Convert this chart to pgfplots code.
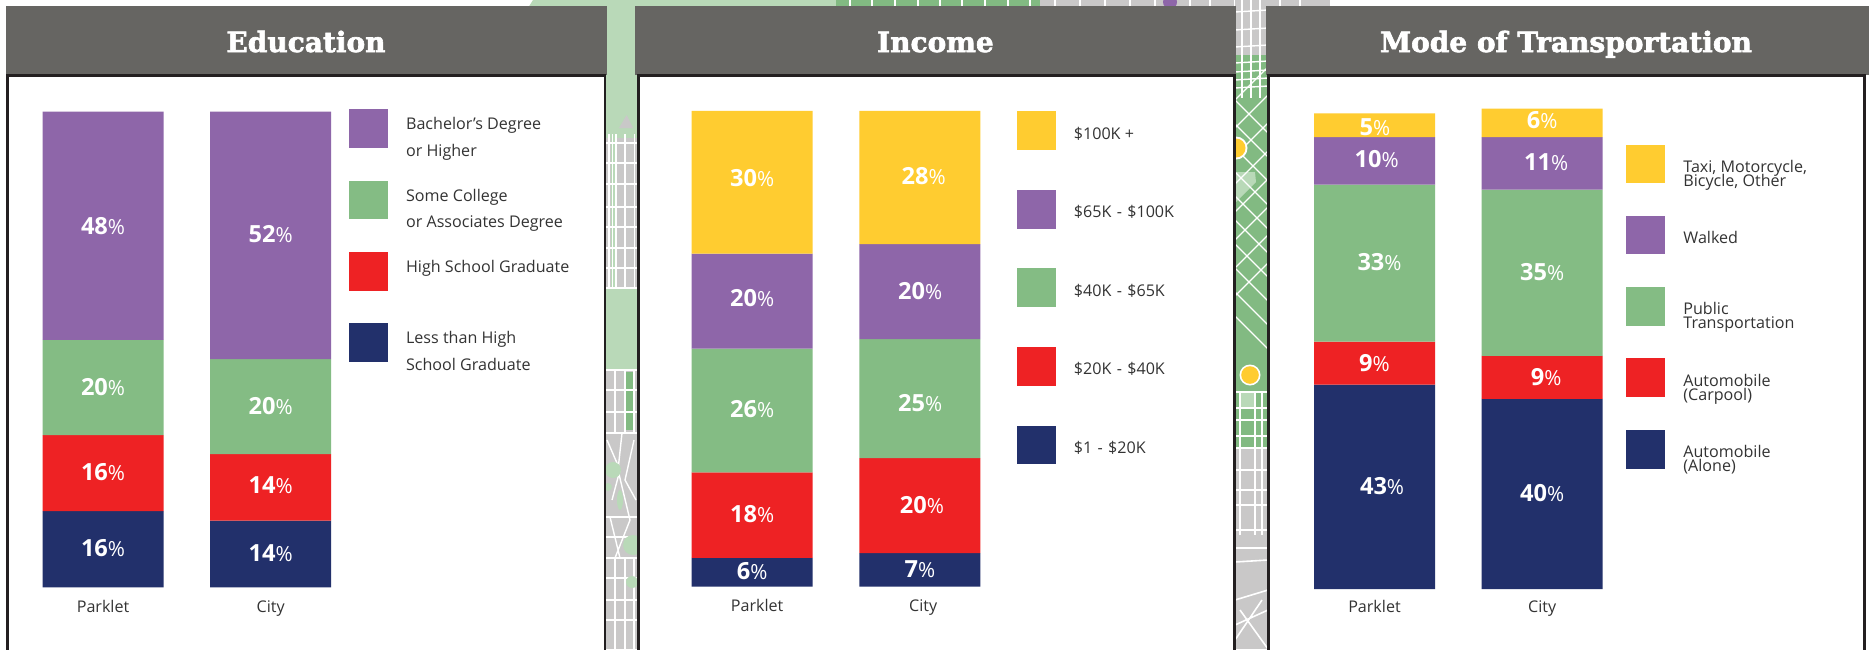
\documentclass[border=0pt]{standalone}
\usepackage{pgfplots}
\pgfplotsset{compat=1.18}
\usepackage{fontspec}
\setmainfont{Open Sans}
\newfontfamily\titlefont[BoldFeatures={FakeBold=2.2}]{DejaVu Serif}
\definecolor{cnavy}{HTML}{22306B}
\definecolor{cred}{HTML}{EE2224}
\definecolor{cgreen}{HTML}{84BC84}
\definecolor{cpurple}{HTML}{8E66A9}
\definecolor{cyellow}{HTML}{FFCC30}
\definecolor{chead}{HTML}{666562}
\definecolor{cbord}{HTML}{231F20}
\definecolor{mpale}{HTML}{B9D9B8}
\definecolor{mgreen}{HTML}{82BA82}
\definecolor{mgrey}{HTML}{C9C8C8}
\newcommand{\val}[1]{{\fontsize{11.8}{12}\selectfont\bfseries #1{\fontsize{10.4}{11}\selectfont\mdseries\%}}}
\newcommand{\lt}[3]{\node[anchor=base west,inner sep=0pt,text=black!80,font=\fontsize{8.05}{8}\selectfont] at (#1,#2+6) {#3};}
\newcommand{\swatch}[4]{\fill[#1] (#2,#3) rectangle (#2+39,#4);}
\newcommand{\head}[6]{%
  \fill[chead] (#1,5.8) rectangle (#2,74.5);
  \fill[white] (#3,75) rectangle (#4,660);
  \draw[cbord,line width=1.25pt] (#3,660) -- (#3,75.5) -- (#4,75.5) -- (#4,660);
  \node[anchor=base,inner sep=0pt,text=white,font=\titlefont\fontsize{14}{16}\selectfont\bfseries] at (#5,52) {#6};}
\pgfplotsset{panel/.style={
  ybar stacked, reverse stacked plots=false, bar width=60.5pt,
  y=2.378pt,
  xmin=-0.5,xmax=1.5,ymin=0,ymax=102,
  enlargelimits=false, clip=false,
  anchor=south west,
  axis line style={draw=none},
  major tick style={draw=none},
  ytick=\empty,
  xticklabels={Parklet,City},
  xticklabel style={font=\fontsize{8.05}{8}\selectfont,text=black!80,anchor=base,yshift=-12.5pt},
  every axis plot/.append style={draw=none},
}}
\tikzset{vl/.style={text=white,inner sep=0pt}}
\begin{document}
\begin{tikzpicture}[x=0.5pt,y=-0.5pt]
\path[use as bounding box] (0,0) rectangle (1869,649);
\clip (0,0) rectangle (1869,649);
\fill[white] (0,0) rectangle (1869,649);
% top strip of the map
\fill[mpale] (533,0) -- (1040,0) -- (1040,8) -- (528,8) -- cycle;
\fill[mgreen] (836,0) rectangle (1040,8);
\fill[mgrey] (1040,0) rectangle (1330,8);
\foreach \x in {850,872,895,918,940,962,985,1008,1030,1055,1080,1105,1130,1155,1190,1210,1235,1250,1280,1300}{\draw[white,line width=.6pt] (\x,0) -- (\x,8);}
\fill[cpurple] (1170,2) circle (7);
% gap 1
\begin{scope}
\clip (606,0) rectangle (637.5,649);
\fill[mpale] (606,0) rectangle (637.5,649);
\fill[mgrey] (606,138) rectangle (637.5,289);
\fill[mgrey] (626.7,115) -- (633,128) -- (619,128) -- cycle;
\fill[mpale] (610.5,138) rectangle (615,289);
\foreach \y in {143,163,184,207,227,248,268,288}{\draw[white,line width=.7pt] (606,\y) -- (637.5,\y);}
\foreach \x in {609,612.5,616,625,634.5}{\draw[white,line width=.7pt] (\x,134) -- (\x,289);}
\fill[mgrey] (606,370) rectangle (637.5,649);
\fill[mgreen] (625,372) rectangle (634,430);
\foreach \y in {370,390,412,433,517,537,558,578,600,620}{\draw[white,line width=.7pt] (606,\y) -- (637.5,\y);}
\foreach \x in {615,625,634}{\draw[white,line width=.7pt] (\x,370) -- (\x,433);\draw[white,line width=.7pt] (\x,558) -- (\x,649);}
\draw[white,line width=.7pt] (607,440) -- (620,470) -- (612,500) (622,433) -- (618,470) -- (630,520) (634,440) -- (625,480) -- (636,500) (610,517) -- (620,558) (630,520) -- (615,558);
\fill[mpale] (613,470) circle (8);
\fill[mpale] (608,487) circle (4);
\fill[mpale] (620,500) ellipse (3 and 10);
\fill[mpale] (633,545) circle (10);
\fill[mpale] (632,582) circle (6);
\end{scope}
% gap 2
\begin{scope}
\clip (1235,0) rectangle (1268,649);
\fill[mgreen] (1235,0) rectangle (1268,649);
\fill[mgrey] (1235,0) rectangle (1268,55);
\fill[mgrey] (1235,448) rectangle (1268,649);
\fill[mpale] (1236,172) -- (1255,172) -- (1256,182) -- (1236,202) -- cycle;
\fill[mpale] (1240,392) rectangle (1255,408);
\foreach \y in {12,30,47,63,72,80,88}{\draw[white,line width=.7pt] (1235,\y) -- (1268,\y-2);}
\foreach \x in {1242,1251,1260}{\draw[white,line width=.7pt] (\x,0) -- (\x,98);}
\foreach \k in {-10,14,...,210}{\draw[white,line width=.6pt] (1235,\k+110) -- (1268,\k+143);}
\foreach \k in {-10,18,...,190}{\draw[white,line width=.6pt] (1235,\k+110) -- (1268,\k+77);}
\foreach \y in {392,408,420,436,448,470,490,505}{\draw[white,line width=.7pt] (1235,\y) -- (1268,\y);}
\foreach \x in {1240,1255,1262}{\draw[white,line width=.7pt] (\x,392) -- (\x,535);}
\foreach \y in {530,548}{\draw[white,line width=.9pt] (1235,\y) -- (1268,\y);}
\draw[white,line width=.8pt] (1235,562) -- (1268,560) (1235,600) -- (1268,590) (1235,625) -- (1268,610) (1240,610) -- (1268,649) (1235,640) -- (1262,600);
\fill[white] (1236,148) circle (11.5);
\fill[cyellow] (1236,148) circle (9.5);
\fill[white] (1250,375) circle (10.5);
\fill[cyellow] (1250,375) circle (8.8);
\end{scope}
% panels
\head{6.2}{607}{7.4}{605.2}{306}{Education}
\head{635}{1236}{638.3}{1234.5}{935.4}{Income}
\head{1265.8}{1869}{1268.3}{1864.7}{1566}{Mode of Transportation}
% EDUCATION
\begin{axis}[panel,x=83.775pt,at={(9.6375pt,-293.65pt)},xtick={0,1}]
\addplot[fill=cnavy] coordinates {(0,16) (1,14)};
\addplot[fill=cred] coordinates {(0,16) (1,14)};
\addplot[fill=cgreen] coordinates {(0,20) (1,20)};
\addplot[fill=cpurple] coordinates {(0,48) (1,52)};
\node[vl] at (axis cs:0,76.05) {\val{48}};
\node[vl] at (axis cs:0,42.1) {\val{20}};
\node[vl] at (axis cs:0,24.2) {\val{16}};
\node[vl] at (axis cs:0,8.35) {\val{16}};
\node[vl] at (axis cs:1,74.2) {\val{52}};
\node[vl] at (axis cs:1,38.2) {\val{20}};
\node[vl] at (axis cs:1,21.4) {\val{14}};
\node[vl] at (axis cs:1,7.2) {\val{14}};
\end{axis}
\swatch{cpurple}{348.6}{108.9}{148.2}
\swatch{cgreen}{348.6}{180.5}{219.4}
\swatch{cred}{348.6}{251.7}{290.6}
\swatch{cnavy}{348.6}{322.8}{362.2}
\lt{405.7}{123.3}{Bachelor's Degree}
\lt{405.7}{150.7}{or Higher}
\lt{405.7}{195}{Some College}
\lt{405.7}{221.9}{or Associates Degree}
\lt{405.7}{266.6}{High School Graduate}
\lt{405.7}{337.8}{Less than High}
\lt{405.7}{364.6}{School Graduate}
% INCOME
\begin{axis}[panel,x=83.875pt,at={(334.1375pt,-293.25pt)},xtick={0.03,1.02}]
\addplot[fill=cnavy] coordinates {(0,6) (1,7)};
\addplot[fill=cred] coordinates {(0,18) (1,20)};
\addplot[fill=cgreen] coordinates {(0,26) (1,25)};
\addplot[fill=cpurple] coordinates {(0,20) (1,20)};
\addplot[fill=cyellow] coordinates {(0,30) (1,28)};
\node[vl] at (axis cs:0,85.9) {\val{30}};
\node[vl] at (axis cs:0,60.7) {\val{20}};
\node[vl] at (axis cs:0,37.3) {\val{26}};
\node[vl] at (axis cs:0,15.3) {\val{18}};
\node[vl] at (axis cs:0,3.2) {\val{6}};
\node[vl] at (axis cs:1.023,86.2) {\val{28}};
\node[vl] at (axis cs:1.002,62.1) {\val{20}};
\node[vl] at (axis cs:1.002,38.6) {\val{25}};
\node[vl] at (axis cs:1.012,17.1) {\val{20}};
\node[vl] at (axis cs:1,3.7) {\val{7}};
\end{axis}
\swatch{cyellow}{1017}{110.9}{149.8}
\swatch{cpurple}{1017}{190}{228.5}
\swatch{cgreen}{1017}{268.2}{307.1}
\swatch{cred}{1017}{346.9}{385.8}
\swatch{cnavy}{1017}{425.5}{464.4}
\lt{1073.5}{133.3}{\$100K +}
\lt{1073.5}{211.5}{\$65K\,\,-\,\,\$100K}
\lt{1073.5}{290.6}{\$40K\,\,-\,\,\$65K}
\lt{1073.5}{368.8}{\$20K\,\,-\,\,\$40K}
\lt{1073.5}{447.4}{\$1\,\,-\,\,\$20K}
% TRANSPORT
\begin{axis}[panel,x=83.825pt,at={(645.3375pt,-294.5pt)},xtick={0,1},xticklabel style={yshift=1pt}]
\addplot[fill=cnavy] coordinates {(0,43) (1,40)};
\addplot[fill=cred] coordinates {(0,9) (1,9)};
\addplot[fill=cgreen] coordinates {(0,33) (1,35)};
\addplot[fill=cpurple] coordinates {(0,10) (1,11)};
\addplot[fill=cyellow] coordinates {(0,5) (1,6)};
\node[vl] at (axis cs:0.003,97.1) {\val{5}};
\node[vl] at (axis cs:0.013,90.3) {\val{10}};
\node[vl] at (axis cs:0.03,68.7) {\val{33}};
\node[vl] at (axis cs:0,47.6) {\val{9}};
\node[vl] at (axis cs:0.045,21.6) {\val{43}};
\node[vl] at (axis cs:1,98.5) {\val{6}};
\node[vl] at (axis cs:1.024,89.8) {\val{11}};
\node[vl] at (axis cs:1,66.7) {\val{35}};
\node[vl] at (axis cs:1.024,44.6) {\val{9}};
\node[vl] at (axis cs:1,20.1) {\val{40}};
\end{axis}
\swatch{cyellow}{1626}{144.5}{182.9}
\swatch{cpurple}{1626}{215.6}{254.1}
\swatch{cgreen}{1626}{287.2}{325.7}
\swatch{cred}{1626}{358.4}{396.9}
\swatch{cnavy}{1626}{430}{468.5}
\lt{1683}{166.4}{Taxi, Motorcycle,}
\lt{1683}{180.5}{Bicycle, Other}
\lt{1683}{237.2}{Walked}
\lt{1683}{308.8}{Public}
\lt{1683}{322.8}{Transportation}
\lt{1683}{380.4}{Automobile}
\lt{1683}{394.4}{(Carpool)}
\lt{1683}{451.6}{Automobile}
\lt{1683}{465.6}{(Alone)}
\end{tikzpicture}
\end{document}
